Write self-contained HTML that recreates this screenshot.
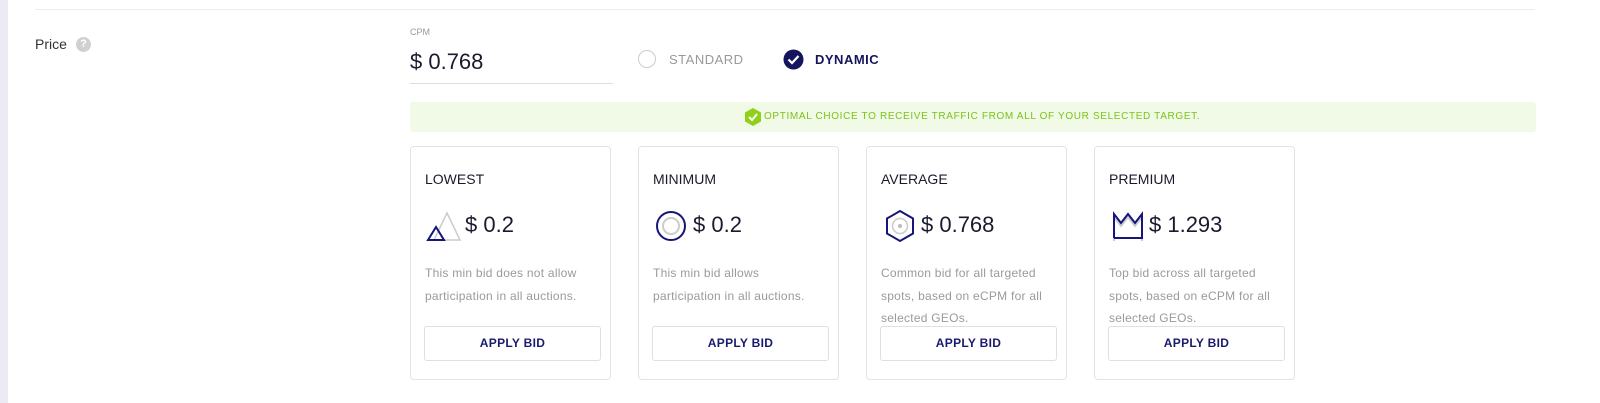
<!DOCTYPE html>
<html><head><style>
body{margin:0;width:1600px;height:403px;background:#fff;font-family:"Liberation Sans",sans-serif;position:relative;overflow:hidden}
.a{position:absolute;white-space:nowrap}
.card{position:absolute;top:146px;width:201px;height:234px;border:1px solid #e3e3e6;border-radius:4px;box-sizing:border-box}
.card .t{position:absolute;left:14px;top:24px;font-size:14px;color:#1a1a2e}
.card .p{position:absolute;left:54px;top:65px;font-size:22px;color:#1a1a2e}
.card .d{position:absolute;left:14px;top:115px;font-size:12px;color:#9a9a9e;line-height:22.5px;width:165px;white-space:normal;letter-spacing:0.25px}
.card .b{position:absolute;left:13px;top:179px;width:177px;height:35px;border:1px solid #e0e0e3;border-radius:3px;box-sizing:border-box;text-align:center;line-height:33px;font-size:12px;font-weight:bold;color:#1a1a6e;letter-spacing:0.3px}
.card svg{position:absolute;left:14px;top:62px}
</style></head><body>
<div class="a" style="left:0;top:0;width:8px;height:403px;background:#ecebf4"></div>
<div class="a" style="left:35px;top:9px;width:1500px;height:1px;background:#ececee"></div>
<div class="a" style="left:35px;top:36px;font-size:14px;color:#333">Price</div>
<div class="a" style="left:76px;top:37px;width:15px;height:15px;border-radius:50%;background:#d0d0d3;color:#fff;font-size:11px;text-align:center;line-height:15px;font-weight:bold">?</div>
<div class="a" style="left:410px;top:27px;font-size:9px;color:#999">CPM</div>
<div class="a" style="left:410px;top:49px;font-size:22px;color:#1a1a2e">$ 0.768</div>
<div class="a" style="left:410px;top:83px;width:203px;height:1px;background:#ddd"></div>
<div class="a" style="left:638px;top:50px;width:16px;height:16px;border:1.5px solid #ccc;border-radius:50%"></div>
<div class="a" style="left:669px;top:52px;font-size:13px;color:#999;letter-spacing:0.5px">STANDARD</div>
<svg class="a" style="left:783px;top:49px" width="21" height="21"><circle cx="10.5" cy="10.5" r="10" fill="#15155e"/><path d="M5.5 10.5l3.5 3.5 6.5-7" stroke="#fff" stroke-width="2.2" fill="none"/></svg>
<div class="a" style="left:815px;top:52px;font-size:13px;color:#15155e;font-weight:bold;letter-spacing:0.5px">DYNAMIC</div>
<div class="a" style="left:410px;top:102px;width:1126px;height:30px;background:#f1fae6;border-radius:3px"></div>
<svg class="a" style="left:744px;top:108px" width="18" height="18"><polygon points="9,0 17,4.5 17,13.5 9,18 1,13.5 1,4.5" fill="#8fd019"/><path d="M5 9l3 3 5-6" stroke="#fff" stroke-width="2" fill="none"/></svg>
<div class="a" style="left:764px;top:111px;font-size:10px;color:#7cc21a;letter-spacing:0.65px">OPTIMAL CHOICE TO RECEIVE TRAFFIC FROM ALL OF YOUR SELECTED TARGET.</div>

<div class="card" style="left:410px"><div class="t">LOWEST</div>
<svg width="38" height="34"><polygon points="22,4 35,31 9,31" fill="none" stroke="#ccc" stroke-width="1.5"/><polygon points="11,18 19,31 3,31" fill="none" stroke="#15157a" stroke-width="2"/></svg>
<div class="p">$ 0.2</div><div class="d">This min bid does not allow participation in all auctions.</div><div class="b">APPLY BID</div></div>

<div class="card" style="left:638px"><div class="t">MINIMUM</div>
<svg width="38" height="34"><circle cx="18" cy="17" r="14" fill="none" stroke="#15157a" stroke-width="2"/><circle cx="18" cy="17" r="8" fill="none" stroke="#ccc" stroke-width="2"/></svg>
<div class="p">$ 0.2</div><div class="d">This min bid allows participation in all auctions.</div><div class="b">APPLY BID</div></div>

<div class="card" style="left:866px"><div class="t">AVERAGE</div>
<svg width="38" height="34"><polygon points="19,2 32,9.5 32,24.5 19,32 6,24.5 6,9.5" fill="none" stroke="#15157a" stroke-width="2"/><circle cx="19" cy="17" r="7.5" fill="none" stroke="#ccc" stroke-width="1.5"/><circle cx="19" cy="17" r="2" fill="#bbb"/></svg>
<div class="p">$ 0.768</div><div class="d">Common bid for all targeted spots, based on eCPM for all selected GEOs.</div><div class="b">APPLY BID</div></div>

<div class="card" style="left:1094px"><div class="t">PREMIUM</div>
<svg width="38" height="34"><polyline points="5,29 5,5 12,14 19,5 26,14 33,5 33,29" fill="none" stroke="#ccc" stroke-width="2" transform="translate(0,3)"/><polyline points="5,29 5,5 12,14 19,5 26,14 33,5 33,29 5,29" fill="none" stroke="#15157a" stroke-width="2"/></svg>
<div class="p">$ 1.293</div><div class="d">Top bid across all targeted spots, based on eCPM for all selected GEOs.</div><div class="b">APPLY BID</div></div>
</body></html>
